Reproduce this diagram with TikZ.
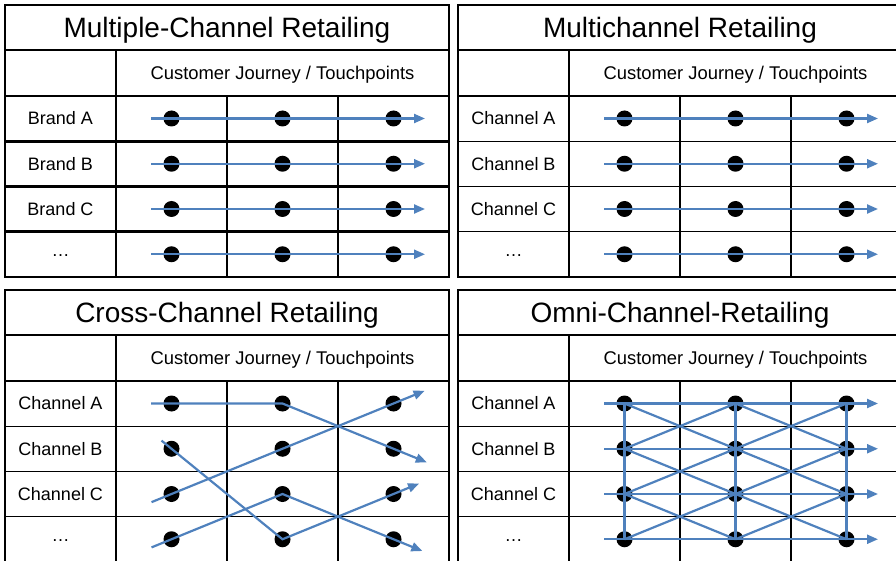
\documentclass[tikz,border=0pt]{standalone}
\usepackage{fontspec}
\setmainfont{Liberation Sans}
\usetikzlibrary{arrows.meta,calc}
\definecolor{touchblue}{RGB}{79,129,189}
\tikzset{
	grid line/.style={black, line width=1.4pt},
	panel title/.style={font=\fontsize{28}{34}\selectfont},
	cell text/.style={font=\fontsize{18}{22}\selectfont},
	head text/.style={font=\fontsize{18.4}{22}\selectfont},
	touchpoint/.style={circle, fill=black, inner sep=0pt, minimum size=16pt},
	journey/.style={touchblue, line width=2.2pt, -{Triangle[length=11pt,width=9pt]}},
	crossline/.style={touchblue, line width=2.2pt}
}

\begin{document}
\begin{tikzpicture}[x=1pt,y=-1pt]
	\useasboundingbox (0,0) rectangle (896,561);
	\clip (0,0) rectangle (896,561);
	\foreach \px/\py/\ttl/\nm/\lab in {5/5/{Multiple-Channel Retailing}/mp/Brand, 458/5/{Multichannel Retailing}/mc/Channel, 5/290/{Cross-Channel Retailing}/cc/Channel, 458/290/{Omni-Channel-Retailing}/oc/Channel}{
		\begin{scope}[shift={(\px,\py)}]
			\draw[grid line] (0,0) rectangle (444,272);
			\draw[grid line] (0,45) -- (444,45);
			\foreach \y in {91,136.25,181.5,226.75}
				\draw[grid line] (0,\y) -- (444,\y);
			\draw[grid line] (111,45) -- (111,272);
			\draw[grid line] (222,91) -- (222,272);
			\draw[grid line] (333,91) -- (333,272);
			\node[panel title] (\nm-title) at (222,25.5) {\ttl};
			\node[head text] (\nm-head) at (277.5,70) {Customer Journey / Touchpoints};
			\foreach \r/\t in {1/A,2/B,3/C}
				\node[cell text] (\nm-label-\r) at (55.5,68.25+45.25*\r) {\lab\ \t};
			\node[cell text] (\nm-label-4) at (55.5,250.5) {…};
			\foreach \r in {1,...,4}{
				\foreach \c in {1,2,3}
					\node[touchpoint] (\nm-\r-\c) at (55.5+111*\c,68.25+45.25*\r) {};
				\coordinate (\nm-in-\r) at (146,68.25+45.25*\r);
				\coordinate (\nm-out-\r) at (420,68.25+45.25*\r);
			}
		\end{scope}
	}
	% heavier row lines of the brand table
	\foreach \y in {96,141.25,186.5,231.75,277}
		\draw[line width=2.8pt] (5,\y) -- (449,\y);

	% straight journeys
	\foreach \nm in {mp,mc,oc}
		\foreach \r in {1,...,4}
			\draw[journey] (\nm-in-\r) -- (\nm-out-\r);

	% cross-channel
	\coordinate (cc-a-out) at ($(cc-1-2)!1.3!(cc-2-3)$);
	\coordinate (cc-b-in) at ($(cc-3-1)!-0.09!(cc-1-3)$);
	\coordinate (cc-b-out) at ($(cc-3-1)!1.14!(cc-1-3)$);
	\coordinate (cc-c-in) at ($(cc-2-1)!-0.09!(cc-4-2)$);
	\coordinate (cc-c-out) at ($(cc-4-2)!1.23!(cc-3-3)$);
	\coordinate (cc-d-in) at ($(cc-4-1)!-0.18!(cc-3-2)$);
	\coordinate (cc-d-out) at ($(cc-3-2)!1.26!(cc-4-3)$);
	\draw[journey] (cc-in-1) -- (cc-1-2.center) -- (cc-a-out);
	\draw[journey] (cc-b-in) -- (cc-b-out);
	\draw[journey] (cc-c-in) -- (cc-4-2.center) -- (cc-c-out);
	\draw[journey] (cc-d-in) -- (cc-3-2.center) -- (cc-d-out);

	% omni-channel
	\foreach \c in {1,2,3}
		\draw[crossline] (oc-1-\c.center) -- (oc-4-\c.center);
	\foreach \r/\s in {1/2,2/3,3/4}
		\foreach \c/\d in {1/2,2/3}{
			\draw[crossline] (oc-\r-\c.center) -- (oc-\s-\d.center);
			\draw[crossline] (oc-\s-\c.center) -- (oc-\r-\d.center);
		}
\end{tikzpicture}
\end{document}
